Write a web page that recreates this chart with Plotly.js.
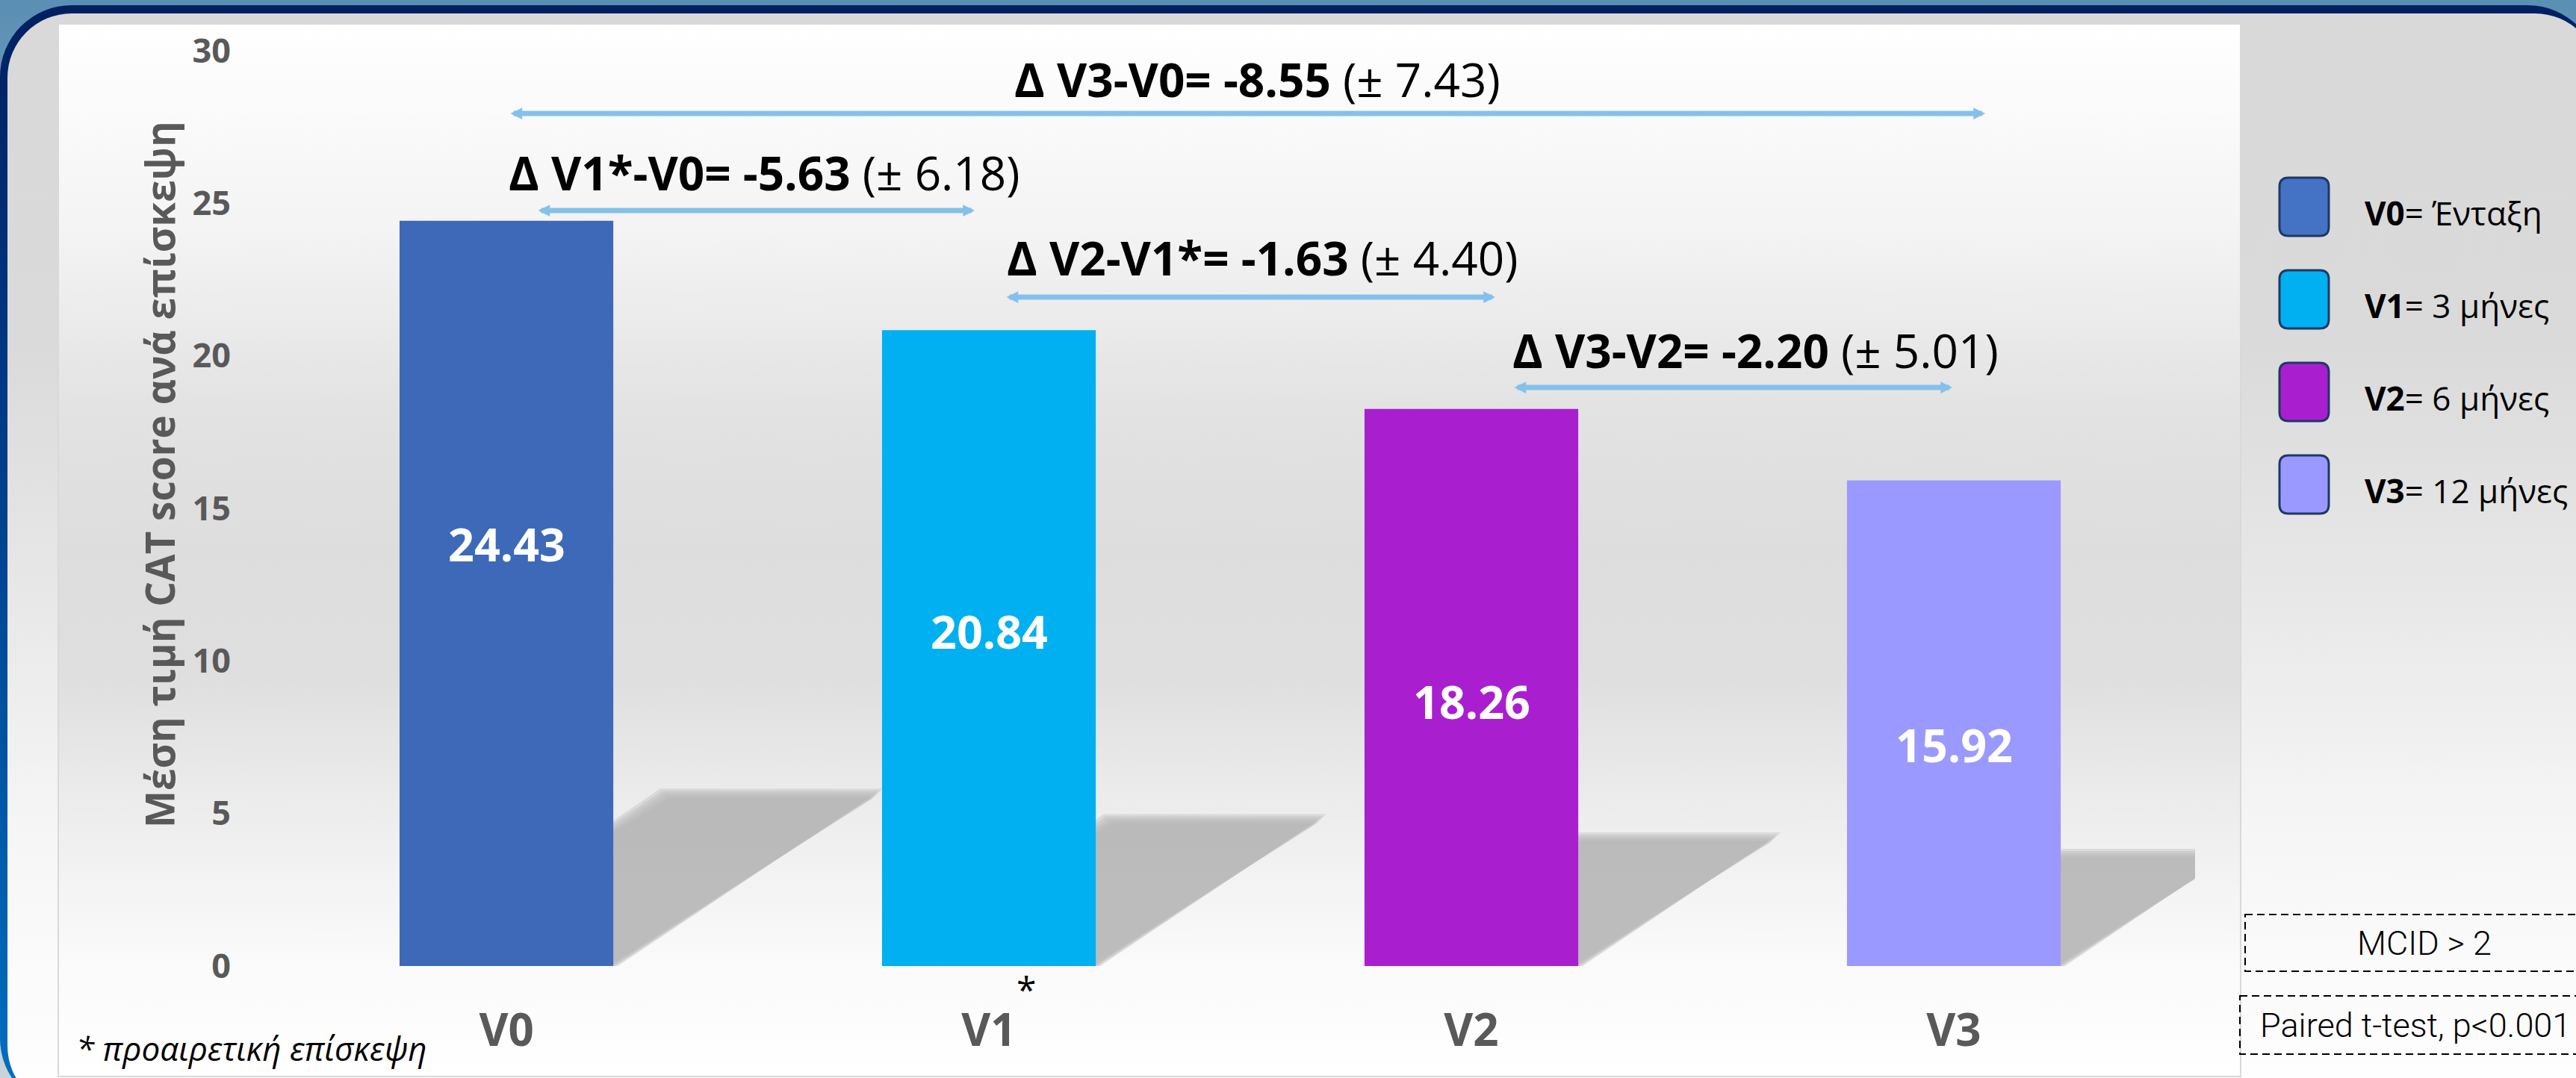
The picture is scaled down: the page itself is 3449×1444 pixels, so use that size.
<!DOCTYPE html>
<html>
<head>
<meta charset="utf-8">
<script src="https://cdn.plot.ly/plotly-3.0.1.min.js"></script>
<style>
  html, body { margin: 0; padding: 0; }
  body { width: 3449px; height: 1444px; position: relative; overflow: hidden;
         background: linear-gradient(180deg, #5b8fb3 0%, #8fb1c8 40%, #c9d3da 100%); }
  #frame { position: absolute; left: 0; top: 7px; width: 3480px; height: 1480px;
           border-radius: 96px; background: linear-gradient(180deg, #002060 0%, #00408e 45%, #0070c0 100%); }
  #inner { position: absolute; left: 10px; top: 11px; right: 0; bottom: 0;
           border-radius: 86px;
           background: linear-gradient(180deg, #d9d9d9 0%, #dadada 30%, #e6e6e6 50%, #f6f6f6 75%, #ffffff 100%); }
  #panel { position: absolute; left: 77px; top: 31px; width: 2920px; height: 1408px;
           border: 2px solid #d9d9d9;
           background: linear-gradient(180deg, #ffffff 0%, #f4f4f4 19%, #e3e3e3 36%, #dddddd 50%, #dfdfdf 62%, #ebebeb 73%, #fafafa 89%, #ffffff 100%); }
  #chart { position: absolute; left: 0; top: 0; width: 3449px; height: 1444px; }
</style>
</head>
<body>
<div id="frame"><div id="inner"></div></div>
<div id="panel"></div>
<div id="chart"></div>
<script>
// ---------------- data ----------------
const categories = ['V0', 'V1', 'V2', 'V3'];
const values = [24.43, 20.84, 18.26, 15.92];
const barColors = ['#3d69b8', '#00b0f0', '#a91fd0', '#9999ff'];
const legendColors = ['#4472c4', '#00b0f0', '#a91fd0', '#9999ff'];
const legendLabels = ['Ένταξη', '3 μήνες', '6 μήνες', '12 μήνες'];
const yTickValues = [0, 5, 10, 15, 20, 25, 30];
const deltaLabels = ['Δ V3-V0= -8.55', 'Δ V1*-V0= -5.63', 'Δ V2-V1*= -1.63', 'Δ V3-V2= -2.20'];
const deltaSD = ['7.43', '6.18', '4.40', '5.01'];
const noteLabels = ['MCID > 2', 'Paired t-test, p<0.001'];
const footnote = '* προαιρετική επίσκεψη';
const yTitle = 'Μέση τιμή CAT score ανά επίσκεψη';

// ---------------- geometry (pixels) ----------------
const W = 3449, H = 1444;
const PL = 315, PR = 2939, PT = 68, PB = 1294;
const px = v => (v - PL) / (PR - PL);
const py = v => (PB - v) / (PB - PT);
const BAR_W = 0.443;
const FONT = 'Open Sans, Noto Sans, sans-serif';

// arrows: [x start, x end, y] pixels; labels: [center x, center y]
const arrowPos = [[682, 2658, 152], [719, 1305, 282], [1346, 2002, 398], [2026, 2614, 519]];
const labelPos = [[1683, 106], [1023, 231], [1690, 345], [2350, 469]];
// vertical pixel position of the value label inside each bar
const valueLabelY = [728, 845, 939, 997];

const shapes = [];
// perspective shadows, derived from bar values
const ux = 1 / 646, uy = 1 / 40.87;
values.forEach((v, i) => {
  const dx = 0.0225 * v, h = 0.232 * v, w = BAR_W / 2;
  for (let k = 0; k < 5; k++) {
    const e = -6 + 3 * k;
    const ex = e * ux, ey = e * uy;
    const p = [
      [i - w, 0],
      [i + w + ex, 0],
      [i + w + dx + ex, h + ey],
      [i - w + dx - ex, h + ey]
    ];
    shapes.push({
      type: 'path', xref: 'x', yref: 'y', layer: 'below',
      path: 'M' + p.map(q => q[0] + ',' + q[1]).join('L') + 'Z',
      fillcolor: '#b4b4b4', opacity: 0.35, line: { width: 0 }
    });
  }
});

// legend boxes (rounded)
function roundRect(x0, y0, x1, y1, r) {
  const P = (x, y) => px(x) + ',' + py(y);
  return 'M' + P(x0 + r, y0) + 'L' + P(x1 - r, y0) + 'Q' + P(x1, y0) + ' ' + P(x1, y0 + r) +
    'L' + P(x1, y1 - r) + 'Q' + P(x1, y1) + ' ' + P(x1 - r, y1) +
    'L' + P(x0 + r, y1) + 'Q' + P(x0, y1) + ' ' + P(x0, y1 - r) +
    'L' + P(x0, y0 + r) + 'Q' + P(x0, y0) + ' ' + P(x0 + r, y0) + 'Z';
}
const annotations = [];
categories.forEach((c, i) => {
  const cy = 277 + i * 124;
  shapes.push({
    type: 'path', xref: 'paper', yref: 'paper',
    path: roundRect(3052, cy - 39, 3118, cy + 39, 12),
    fillcolor: legendColors[i], line: { color: '#1f3864', width: 3 }
  });
  annotations.push({
    xref: 'paper', yref: 'paper', x: px(3164), y: py(cy + 8), xanchor: 'left', yanchor: 'middle',
    text: '<b>' + c + '</b>= ' + legendLabels[i], showarrow: false,
    font: { family: FONT, size: 44, color: '#000' }
  });
  // value label inside the bar
  annotations.push({
    xref: 'x', yref: 'paper', x: i, y: py(valueLabelY[i]), xanchor: 'center', yanchor: 'middle',
    text: values[i].toFixed(2), showarrow: false,
    font: { family: FONT, size: 61, color: '#ffffff', weight: 700 }
  });
});

// dashed note boxes
const noteBoxes = [[3006, 1225, 1301], [2999, 1334, 1412]];
noteBoxes.forEach((b, i) => {
  shapes.push({
    type: 'rect', xref: 'paper', yref: 'paper',
    x0: px(b[0]), x1: px(3500), y0: py(b[1]), y1: py(b[2]),
    line: { color: '#000', width: 2, dash: '10px,6px' }, fillcolor: 'rgba(0,0,0,0)'
  });
});
annotations.push({
  xref: 'paper', yref: 'paper', x: px(3246), y: py(1263), xanchor: 'center', yanchor: 'middle',
  text: noteLabels[0], showarrow: false, font: { family: 'Roboto, sans-serif', size: 45, weight: 300, color: '#000' }
});
annotations.push({
  xref: 'paper', yref: 'paper', x: px(3024), y: py(1373), xanchor: 'left', yanchor: 'middle',
  text: noteLabels[1], showarrow: false, font: { family: 'Roboto, sans-serif', size: 45, weight: 300, color: '#000' }
});

// delta arrows & labels
arrowPos.forEach((a, i) => {
  annotations.push({
    xref: 'paper', yref: 'paper', x: px(a[1]), y: py(a[2]), ax: a[0] - a[1], ay: 0,
    axref: 'pixel', ayref: 'pixel', text: '', showarrow: true,
    arrowside: 'end+start', arrowhead: 2, arrowsize: 0.45, arrowwidth: 7,
    arrowcolor: '#84c1ea', standoff: 0, startstandoff: 0
  });
  annotations.push({
    xref: 'paper', yref: 'paper', x: px(labelPos[i][0]), y: py(labelPos[i][1]),
    xanchor: 'center', yanchor: 'middle', showarrow: false,
    text: '<b>' + deltaLabels[i] + '</b> (± ' + deltaSD[i] + ')',
    font: { family: FONT, size: 62, color: '#000' }
  });
});

// y-axis title
annotations.push({
  xref: 'paper', yref: 'paper', x: px(213), y: py(636), xanchor: 'center', yanchor: 'middle',
  textangle: -90, showarrow: false, text: '<b>' + yTitle + '</b>',
  font: { family: FONT, size: 53, color: '#595959' }
});
// asterisk on V1
annotations.push({
  xref: 'paper', yref: 'paper', x: px(1374), y: py(1324), xanchor: 'center', yanchor: 'middle',
  showarrow: false, text: '*', font: { family: FONT, size: 48, color: '#000' }
});
// footnote
annotations.push({
  xref: 'paper', yref: 'paper', x: px(100), y: py(1404), xanchor: 'left', yanchor: 'middle',
  showarrow: false, text: footnote, font: { family: FONT, size: 44, style: 'italic', color: '#000' }
});

const trace = {
  type: 'bar',
  x: categories.map((c, i) => i),
  y: values,
  width: BAR_W,
  marker: { color: barColors, line: { width: 0 } },
  hoverinfo: 'skip',
  showlegend: false
};

const layout = {
  width: W, height: H,
  margin: { l: PL, r: W - PR, t: PT, b: H - PB, pad: 0 },
  paper_bgcolor: 'rgba(0,0,0,0)',
  plot_bgcolor: 'rgba(0,0,0,0)',
  showlegend: false,
  xaxis: {
    range: [-0.562, 3.5], tickvals: categories.map((c, i) => i), ticktext: categories,
    showgrid: false, zeroline: false, showline: false, ticks: '',
    tickfont: { family: FONT, size: 60, color: '#595959', weight: 700 },
    ticklabelstandoff: 46, fixedrange: true
  },
  yaxis: {
    range: [0, 30], tickvals: yTickValues,
    showgrid: false, zeroline: false, showline: false, ticks: '',
    tickfont: { family: FONT, size: 45, color: '#595959', weight: 700 },
    ticklabelstandoff: 5, fixedrange: true
  },
  shapes: shapes,
  annotations: annotations
};

Plotly.newPlot('chart', [trace], layout, { displayModeBar: false, staticPlot: true });
</script>
</body>
</html>
